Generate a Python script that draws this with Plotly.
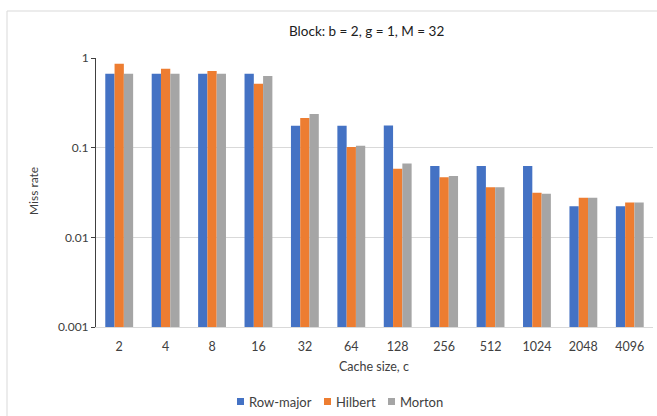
import plotly.graph_objects as go

# Cache sizes and miss rates per traversal order
cache_sizes = ["2", "4", "8", "16", "32", "64", "128", "256", "512", "1024", "2048", "4096"]
row_major = [0.667, 0.667, 0.667, 0.667, 0.176, 0.176, 0.177, 0.0625, 0.0625, 0.0625, 0.0222, 0.0222]
hilbert = [0.864, 0.76, 0.716, 0.517, 0.214, 0.102, 0.0583, 0.0467, 0.0361, 0.0315, 0.0277, 0.0244]
morton = [0.668, 0.668, 0.668, 0.63, 0.238, 0.105, 0.0668, 0.0482, 0.0361, 0.0307, 0.0277, 0.0244]

series_names = ["Row-major", "Hilbert", "Morton"]
series_values = [row_major, hilbert, morton]
series_colors = ["#4472C4", "#ED7D31", "#A5A5A5"]

FONT = "Lato, 'Liberation Sans', sans-serif"
W, H = 657, 416
L, R, T, B = 96, 4, 58, 89
pw, ph = W - L - R, H - T - B


def px_x(p):
    return (p - L) / pw


def px_y(p):
    return (H - B - p) / ph


fig = go.Figure()
for name, vals, color in zip(series_names, series_values, series_colors):
    fig.add_trace(go.Bar(x=cache_sizes, y=vals, name=name, showlegend=False,
                         marker=dict(color=color, line=dict(width=0))))

# Compact legend below the axis: colour square followed by the series name
legend_square_x = [237, 324, 388]
shapes = [dict(type="rect", xref="paper", yref="paper",
               x0=px_x(7), x1=px_x(662), y0=px_y(422), y1=px_y(11),
               line=dict(color="#D9D9D9", width=1), layer="below")]
annotations = []
for sx, name, color in zip(legend_square_x, series_names, series_colors):
    shapes.append(dict(type="rect", xref="paper", yref="paper",
                       x0=px_x(sx), x1=px_x(sx + 7), y0=px_y(405), y1=px_y(398),
                       line=dict(width=0), fillcolor=color))
    annotations.append(dict(text=name, xref="paper", yref="paper",
                            x=px_x(sx + 10), y=px_y(401.5),
                            xanchor="left", yanchor="middle", showarrow=False,
                            font=dict(size=13, color="#404040")))

annotations += [
    dict(text="Block: b = 2, g = 1, M = 32", xref="paper", yref="paper",
         x=px_x(366), y=px_y(31), xanchor="center", yanchor="middle",
         showarrow=False, font=dict(size=13.5, color="#202020")),
    dict(text="Cache size, c", xref="paper", yref="paper",
         x=px_x(374), y=px_y(366), xanchor="center", yanchor="middle",
         showarrow=False, font=dict(size=12.5, color="#404040")),
    dict(text="Miss rate", xref="paper", yref="paper", textangle=-90,
         x=px_x(33), y=px_y(191), xanchor="center", yanchor="middle",
         showarrow=False, font=dict(size=12, color="#404040")),
]

fig.update_layout(
    width=W, height=H,
    margin=dict(l=L, r=R, t=T, b=B),
    paper_bgcolor="white", plot_bgcolor="white",
    barmode="group", bargap=0.4, bargroupgap=0,
    font=dict(family=FONT, size=12, color="#404040"),
    showlegend=False,
    xaxis=dict(type="category", showgrid=False, showline=True,
               linecolor="#D9D9D9", linewidth=1, ticks="",
               ticklabelstandoff=8,
               tickfont=dict(size=12.5, color="#404040")),
    yaxis=dict(type="log", range=[-3, 0],
               tickvals=[0.001, 0.01, 0.1, 1],
               ticktext=["0.001", "0.01", "0.1", "1"],
               showgrid=True, gridcolor="#D9D9D9", gridwidth=1,
               showline=True, linecolor="#404040", linewidth=1,
               ticks="outside", ticklen=4, tickcolor="#404040",
               tickfont=dict(size=12, color="#404040"),
               zeroline=False),
    shapes=shapes,
    annotations=annotations,
)

fig.write_html("out.html")
